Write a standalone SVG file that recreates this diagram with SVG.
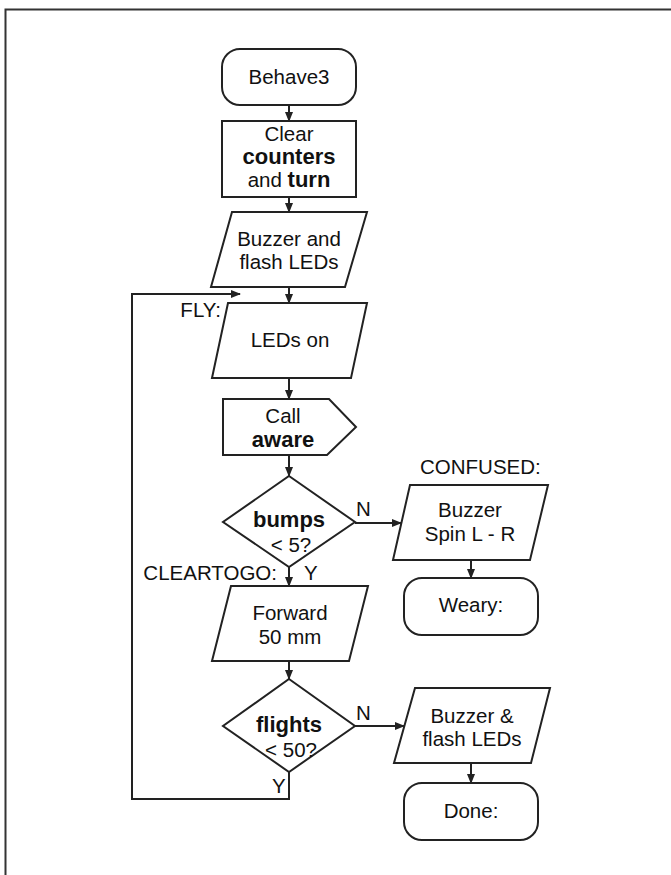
<svg xmlns="http://www.w3.org/2000/svg" width="671" height="875" viewBox="0 0 671 875">
<defs>
<marker id="ah" markerUnits="userSpaceOnUse" markerWidth="10" markerHeight="8" refX="9" refY="4" orient="auto">
<path d="M0,0 L10,4 L0,8 z" fill="#222"/>
</marker>
<style>
.s{fill:#fff;stroke:#222;stroke-width:2}
.c{fill:none;stroke:#222;stroke-width:2;marker-end:url(#ah)}
text{font-family:"Liberation Sans",Arial,sans-serif;font-size:20.5px;fill:#111}
.m{text-anchor:middle}
.b{font-weight:bold;font-size:22px}
</style>
</defs>
<rect width="671" height="875" fill="#fff"/>
<path d="M5.5,875 V9.5 H671" fill="none" stroke="#333" stroke-width="2"/>

<g id="connectors">
<line class="c" x1="289" y1="105" x2="289" y2="121"/>
<line class="c" x1="289" y1="197" x2="289" y2="212"/>
<line class="c" x1="289" y1="287" x2="289" y2="303"/>
<line class="c" x1="289" y1="378" x2="289" y2="399"/>
<line class="c" x1="289" y1="455" x2="289" y2="476"/>
<line class="c" x1="355" y1="523" x2="401" y2="523"/>
<line class="c" x1="471" y1="560" x2="471" y2="578"/>
<line class="c" x1="289" y1="567" x2="289" y2="586"/>
<line class="c" x1="289" y1="661" x2="289" y2="679"/>
<line class="c" x1="355" y1="726" x2="404" y2="726"/>
<line class="c" x1="471" y1="763" x2="471" y2="783"/>
<path class="c" d="M289,772 V799 H132 V294 H240"/>
<text x="356" y="516">N</text>
<text x="304" y="580">Y</text>
<text x="356" y="720">N</text>
<text x="272" y="793">Y</text>
</g>

<g id="behave3">
<rect class="s" x="222" y="49" width="134" height="56" rx="18"/>
<text class="m" x="289" y="84">Behave3</text>
</g>

<g id="clear">
<rect class="s" x="222" y="121" width="134" height="76"/>
<text class="m" x="289" y="141">Clear</text>
<text class="m b" x="289" y="164">counters</text>
<text class="m" x="289" y="187">and <tspan font-weight="bold" font-size="22">turn</tspan></text>
</g>

<g id="buzzer1">
<polygon class="s" points="232,212 367,212 345,287 211,287"/>
<text class="m" x="289" y="246">Buzzer and</text>
<text class="m" x="289" y="269">flash LEDs</text>
</g>

<g id="fly">
<text x="221" y="317" text-anchor="end">FLY:</text>
<polygon class="s" points="228,303 367,303 351,378 212,378"/>
<text class="m" x="290" y="347">LEDs on</text>
</g>

<g id="call">
<polygon class="s" points="223,399 329,399 356,427 327,455 223,455"/>
<text class="m" x="283" y="423">Call</text>
<text class="m b" x="283" y="447">aware</text>
</g>

<g id="bumps">
<polygon class="s" points="289,476 355,522 289,567 223,522"/>
<text class="m b" x="289" y="527">bumps</text>
<text class="m" x="291" y="552">&lt; 5?</text>
</g>

<g id="confused">
<text x="420" y="474">CONFUSED:</text>
<polygon class="s" points="410,485 548,485 530,560 393,560"/>
<text class="m" x="470" y="517">Buzzer</text>
<text class="m" x="470" y="541">Spin L - R</text>
</g>

<g id="weary">
<rect class="s" x="404" y="578" width="134" height="57" rx="18"/>
<text class="m" x="471" y="612">Weary:</text>
</g>

<g id="cleartogo">
<text x="277" y="580" text-anchor="end">CLEARTOGO:</text>
<polygon class="s" points="231,586 368,586 349,661 212,661"/>
<text class="m" x="290" y="620">Forward</text>
<text class="m" x="290" y="644">50 mm</text>
</g>

<g id="flights">
<polygon class="s" points="289,679 355,726 289,772 223,726"/>
<text class="m b" x="289" y="732">flights</text>
<text class="m" x="291" y="757">&lt; 50?</text>
</g>

<g id="buzzer2">
<polygon class="s" points="415,688 550,688 531,763 394,763"/>
<text class="m" x="472" y="723">Buzzer &amp;</text>
<text class="m" x="472" y="746">flash LEDs</text>
</g>

<g id="done">
<rect class="s" x="404" y="783" width="134" height="57" rx="18"/>
<text class="m" x="471" y="818">Done:</text>
</g>
</svg>
